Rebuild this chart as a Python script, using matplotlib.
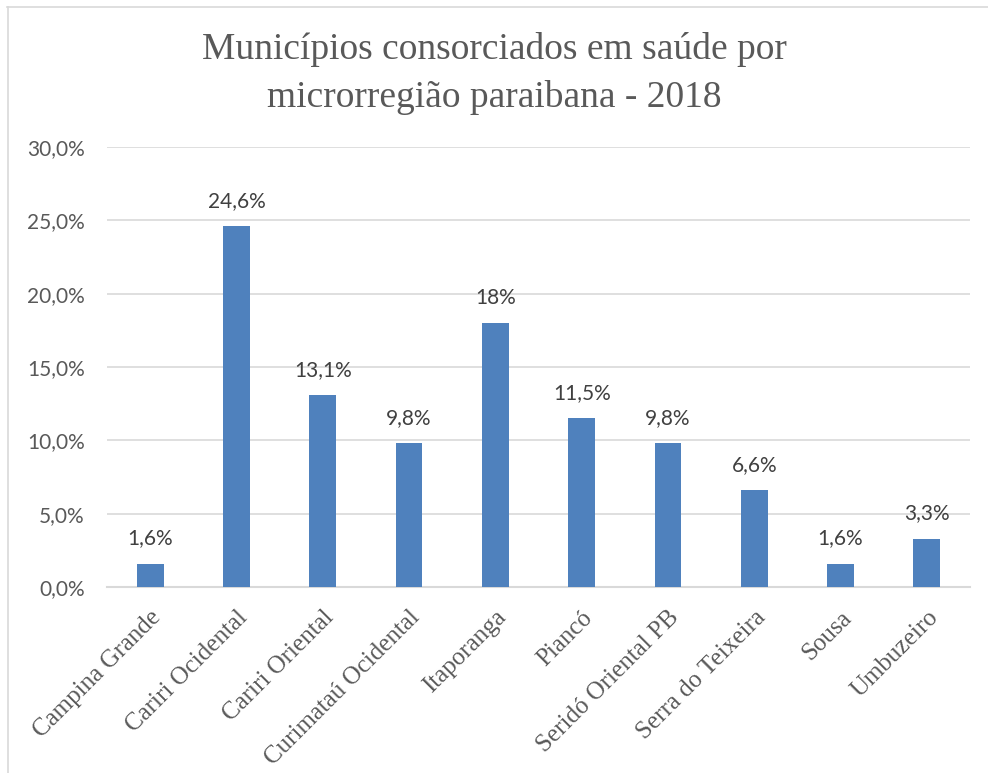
import numpy as np
import matplotlib.pyplot as plt
from matplotlib.lines import Line2D

# data
regions = ['Campina Grande', 'Cariri Ocidental', 'Cariri Oriental', 'Curimataú Ocidental',
           'Itaporanga', 'Piancó', 'Seridó Oriental PB', 'Serra do Teixeira', 'Sousa', 'Umbuzeiro']
shares = [1.6, 24.6, 13.1, 9.8, 18.0, 11.5, 9.8, 6.6, 1.6, 3.3]
share_labels = ['1,6%', '24,6%', '13,1%', '9,8%', '18%', '11,5%', '9,8%', '6,6%', '1,6%', '3,3%']
y_ticks = [0, 5, 10, 15, 20, 25, 30]
y_tick_labels = ['0,0%', '5,0%', '10,0%', '15,0%', '20,0%', '25,0%', '30,0%']

fig = plt.figure(figsize=(9.88, 7.73), dpi=100)
ax = fig.add_axes([0.1083, 0.2406, 0.8735, 0.5692])

x = np.arange(len(regions))
ax.bar(x, shares, width=0.31, color='#4F81BD', zorder=3)

# data labels above bars
for xi, yi, lab in zip(x, shares, share_labels):
    ax.annotate(lab, xy=(xi, yi), xytext=(0, 11), textcoords='offset points',
                ha='center', va='bottom', fontsize=15, color='#404040', family='Lato')

ax.set_xlim(-0.5, len(regions) - 0.5)
ax.set_ylim(0, 30)
ax.set_yticks(y_ticks)
ax.set_yticklabels(y_tick_labels, fontsize=15, color='#595959', family='Lato')
ax.set_xticks(x)
ax.set_xticklabels(regions, rotation=45, ha='right', rotation_mode='anchor',
                   fontsize=18, color='#595959', family='Liberation Serif')
ax.tick_params(axis='both', length=0)
ax.tick_params(axis='y', pad=16)
ax.tick_params(axis='x', pad=14)
ax.yaxis.grid(True, color='#D9D9D9', linewidth=1.2, zorder=0)
for s in ['top', 'right', 'left']:
    ax.spines[s].set_visible(False)
ax.spines['bottom'].set_color('#D9D9D9')
ax.spines['bottom'].set_linewidth(1.5)

fig.text(0.5, 0.905, 'Municípios consorciados em saúde por\nmicrorregião paraibana - 2018',
         ha='center', va='center', fontsize=27, color='#595959',
         family='Liberation Serif', linespacing=1.45)

# chart frame (top and left edges visible)
fig.add_artist(Line2D([7 / 988, 1], [1 - 7 / 773, 1 - 7 / 773], color='#D9D9D9',
                      linewidth=1.2, transform=fig.transFigure))
fig.add_artist(Line2D([8 / 988, 8 / 988], [0, 1 - 7 / 773], color='#D9D9D9',
                      linewidth=1.2, transform=fig.transFigure))

fig.savefig('out.png', dpi=100, facecolor='white')
